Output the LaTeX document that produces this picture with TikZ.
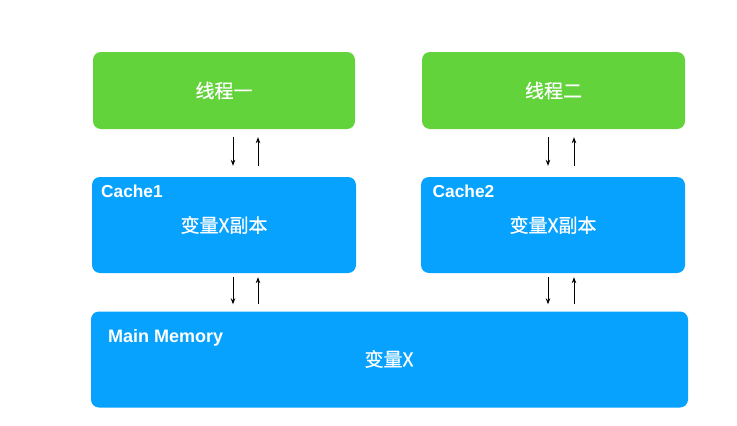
\documentclass[tikz,border=0pt]{standalone}
\usepackage{fontspec}
\setmainfont{Liberation Sans}
\newfontfamily\cjk[FakeBold=0.6]{Noto Sans CJK SC}
\usetikzlibrary{arrows.meta}
\definecolor{thgreen}{HTML}{62D33A}
\definecolor{cblue}{HTML}{06A2FE}
\tikzset{
  box/.style={draw=none, rounded corners=8pt, inner sep=0pt, text=white},
  green/.style={box, fill=thgreen},
  blue/.style={box, fill=cblue},
  mtext/.style={text=white, font=\cjk\fontsize{19}{19}\selectfont},
  lab/.style={text=white, anchor=base west, inner sep=0pt, font=\bfseries\fontsize{17.3}{17.3}\selectfont},
  arr/.style={draw=black, line width=0.8pt, -{Stealth[length=6pt,width=4.5pt]}},
  upper/.style={arr, shorten <=8pt, shorten >=11pt},
  upperup/.style={arr, shorten <=11pt, shorten >=8pt},
  lower/.style={arr, shorten <=4pt, shorten >=7pt},
  lowerup/.style={arr, shorten <=7pt, shorten >=4pt}
}
\begin{document}
\begin{tikzpicture}[x=1pt,y=-1pt]
\useasboundingbox (0,0) rectangle (737,426);
\fill[white] (0,0) rectangle (737,426);
% boxes
\node[green, minimum width=262pt, minimum height=77pt] (t1) at (224,90.5) {};
\node[green, minimum width=263pt, minimum height=77pt] (t2) at (553.5,90.5) {};
\node[blue, minimum width=264pt, minimum height=96pt] (c1) at (224,225) {};
\node[blue, minimum width=264pt, minimum height=96pt] (c2) at (553,225) {};
\node[blue, minimum width=597pt, minimum height=96pt] (mm) at (389.5,359.5) {};
% texts
\node[mtext] (t1t) at (t1.center) {线程一};
\node[mtext] (t2t) at (t2.center) {线程二};
\node[mtext] (c1t) at (c1.center) {变量X副本};
\node[mtext] (c2t) at (c2.center) {变量X副本};
\node[mtext] (mmt) at (389,359) {变量X};
\node[lab] (c1l) at (101,197) {Cache1};
\node[lab] (c2l) at (432.5,197) {Cache2};
\node[lab, font=\bfseries\fontsize{18}{18}\selectfont] (mml) at (108,342) {Main Memory};
% arrow columns
\coordinate (a1) at (233,0);
\coordinate (b1) at (258,0);
\coordinate (a2) at (548,0);
\coordinate (b2) at (574,0);
% thread <-> cache
\draw[upper] (t1.south -| a1) -- (c1.north -| a1);
\draw[upperup] (c1.north -| b1) -- (t1.south -| b1);
\draw[upper] (t2.south -| a2) -- (c2.north -| a2);
\draw[upperup] (c2.north -| b2) -- (t2.south -| b2);
% cache <-> main memory
\draw[lower] (c1.south -| a1) -- (mm.north -| a1);
\draw[lowerup] (mm.north -| b1) -- (c1.south -| b1);
\draw[lower] (c2.south -| a2) -- (mm.north -| a2);
\draw[lowerup] (mm.north -| b2) -- (c2.south -| b2);
\end{tikzpicture}
\end{document}
